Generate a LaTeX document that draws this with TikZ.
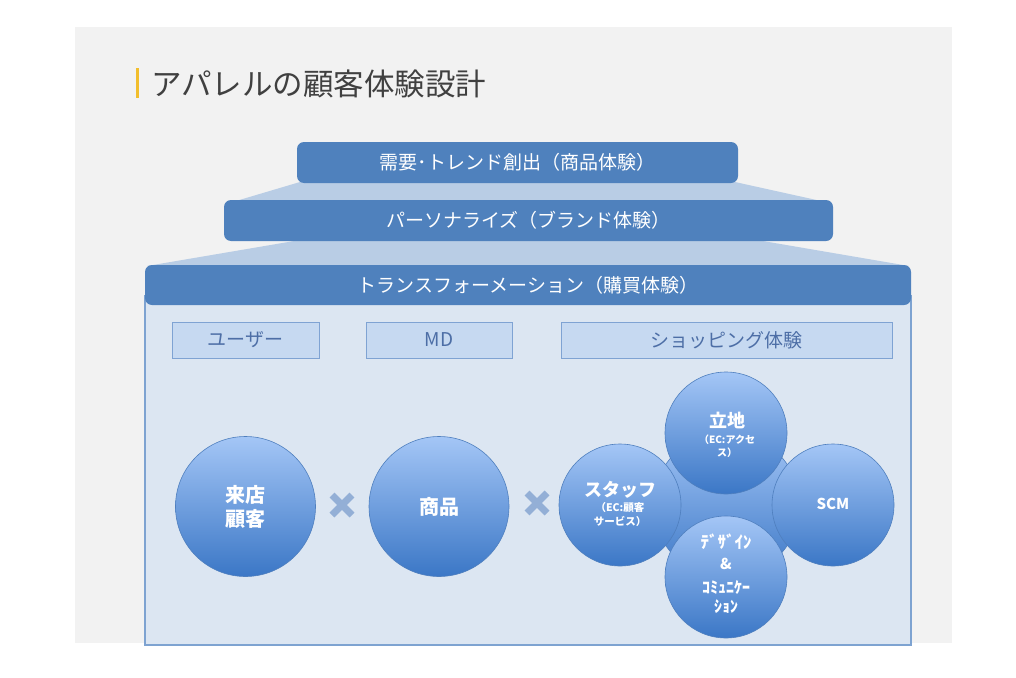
\documentclass[tikz,border=0pt]{standalone}
\usepackage{fontspec}
\setmainfont{Noto Sans CJK JP}
\usetikzlibrary{shapes.geometric}
\definecolor{bgGray}{HTML}{F2F2F2}
\definecolor{boxBlue}{HTML}{4F81BD}
\definecolor{trapBlue}{HTML}{B9CDE5}
\definecolor{contFill}{HTML}{DCE6F2}
\definecolor{contBorder}{HTML}{7EA3D1}
\definecolor{lblFill}{HTML}{C6D9F1}
\definecolor{lblBorder}{HTML}{7FA3D3}
\definecolor{lblText}{HTML}{4D6EA6}
\definecolor{circTop}{HTML}{A4C6F6}
\definecolor{circBot}{HTML}{3B77C6}
\definecolor{circBorder}{HTML}{4F7FBE}
\definecolor{crossCol}{HTML}{93AFD6}
\definecolor{titleGray}{HTML}{404040}
\definecolor{barGold}{HTML}{F2BE2C}
\tikzset{
  tierbox/.style={fill=boxBlue, draw=none, rounded corners=7pt, text=white,
    font=\fontsize{19}{22}\selectfont, inner sep=0pt},
  lblbox/.style={fill=lblFill, draw=lblBorder, line width=1pt, text=lblText,
    font=\fontsize{19}{22}\selectfont, inner sep=0pt, minimum height=36pt},
  bigcirc/.style={circle, inner sep=0pt, minimum size=140pt, draw=circBorder, line width=0.6pt,
    top color=circTop, bottom color=circBot, text=white, align=center,
    font=\bfseries\fontsize{20}{25}\selectfont},
  smallcirc/.style={circle, inner sep=0pt, minimum size=122pt, draw=circBorder, line width=0.6pt,
    top color=circTop, bottom color=circBot},
  ctext/.style={text=white, inner sep=0pt, font=\bfseries\fontsize{#1}{#1}\selectfont},
  crossline/.style={draw=crossCol, line width=7pt},
}
\begin{document}
\begin{tikzpicture}[x=1pt,y=-1pt]
\useasboundingbox (0,0) rectangle (1016,677);
\fill[white] (0,0) rectangle (1016,677);
\fill[bgGray] (75,27) rectangle (952,643);
% title
\fill[barGold] (136,68) rectangle (138.5,98);
\node[anchor=west, text=titleGray, font=\fontsize{30.5}{33}\selectfont, inner sep=0pt] (title) at (151,84) {アパレルの顧客体験設計};
% trapezoids
\fill[trapBlue] (300,182) -- (735,182) -- (821,201) -- (236,201) -- cycle;
\fill[trapBlue] (300,240) -- (757,240) -- (909,266) -- (147,266) -- cycle;
% tier boxes
\node[tierbox, minimum width=441pt, minimum height=41pt] (t1) at (517.5,162.5) {需要･トレンド創出（商品体験）};
\node[tierbox, minimum width=609pt, minimum height=41pt] (t2) at (528.5,220.5) {パーソナライズ（ブランド体験）};
% container
\fill[contFill] (145,290) rectangle (911,645);
\draw[contBorder, line width=1.2pt] (145,295) -- (145,645) -- (911,645) -- (911,295);
\node[tierbox, minimum width=766pt, minimum height=40pt] (t3) at (528,285) {トランスフォーメーション（購買体験）};
% label boxes
\node[lblbox, minimum width=147pt] (l1) at (245.5,340) {ユーザー};
\node[lblbox, minimum width=146pt] (l2) at (439,340) {MD};
\node[lblbox, minimum width=331pt] (l3) at (726.5,340) {ショッピング体験};
% big circles
\node[bigcirc] (c1) at (245.5,506.5) {};
\node[ctext=20, anchor=center] (c1a) at (245.5,495) {来店};
\node[ctext=20, anchor=center] (c1b) at (245.5,519) {顧客};
\node[bigcirc] (c2) at (439,506.5) {};
\node[ctext=20] (c2a) at (439,507) {商品};
% crosses
\coordinate (x1) at (342,505);
\coordinate (x2) at (537,503);
\draw[crossline] ([shift={(-10,-10)}]x1) -- ([shift={(10,10)}]x1);
\draw[crossline] ([shift={(-10,10)}]x1) -- ([shift={(10,-10)}]x1);
\draw[crossline] ([shift={(-10,-10)}]x2) -- ([shift={(10,10)}]x2);
\draw[crossline] ([shift={(-10,10)}]x2) -- ([shift={(10,-10)}]x2);
% cluster
\node[circle, minimum size=146pt, inner sep=0pt, draw=circBorder, line width=0.6pt,
  top color=circTop, bottom color=circBot] (hub) at (726.5,505) {};
\node[smallcirc] (ct) at (726,433) {};
\node[smallcirc] (cl) at (620,505) {};
\node[smallcirc] (cr) at (833,505) {};
\node[smallcirc] (cb) at (726,577) {};
% cluster texts
\node[ctext=18] (cta) at (727,420) {立地};
\node[ctext=10] (ctb) at (727,440) {（EC:アクセ};
\node[ctext=10] (ctc) at (727,453) {ス）};
\node[ctext=18] (cla) at (620,490) {スタッフ};
\node[ctext=10.5] (clb) at (620,507.5) {（EC:顧客};
\node[ctext=10.5] (clc) at (620,521.5) {サービス）};
\node[ctext=15] (cra) at (833,504) {SCM};
\node[ctext=17] (cba) at (726,542) {ﾃﾞｻﾞｲﾝ};
\node[ctext=15] (cbb) at (726,564) {\&};
\node[ctext=16] (cbc) at (726,588) {ｺﾐｭﾆｹｰ};
\node[ctext=16] (cbd) at (726,607) {ｼｮﾝ};
\end{tikzpicture}
\end{document}
